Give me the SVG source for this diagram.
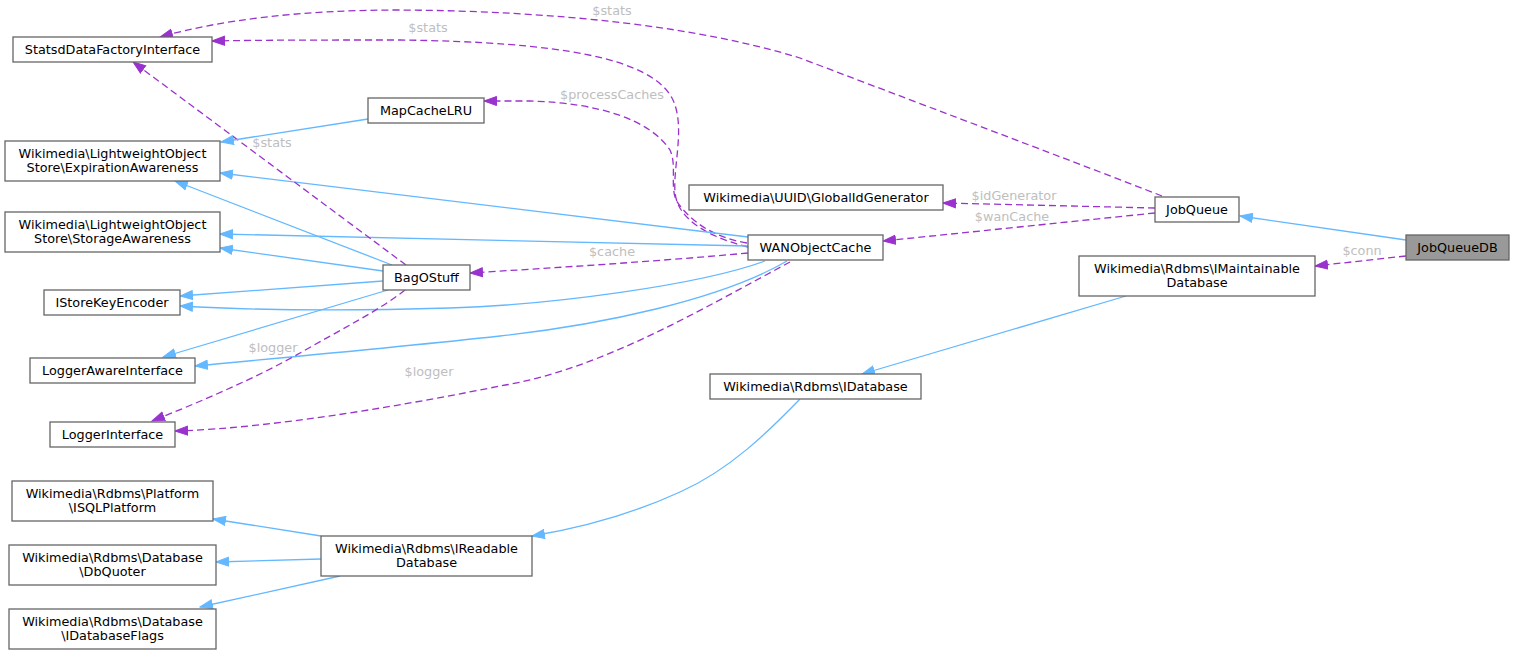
<svg xmlns="http://www.w3.org/2000/svg" width="1515" height="655" viewBox="0 0 1515 655">
<style>
.n rect{fill:#ffffff;stroke:#666666;stroke-width:1.3}
.n text{font-family:"DejaVu Sans",sans-serif;font-size:12.8px;fill:#000000;text-anchor:middle}
#JobQueueDB rect{fill:#999999}
.inh{fill:none;stroke:#63b8ff;stroke-width:1.3;marker-end:url(#ab)}
.use{fill:none;stroke:#9a32cd;stroke-width:1.3;stroke-dasharray:7,4;marker-end:url(#ap)}
.lbl{font-family:"DejaVu Sans",sans-serif;font-size:12.8px;fill:#bebebe;text-anchor:middle}
</style>
<defs>
<marker id="ab" markerUnits="userSpaceOnUse" markerWidth="14" markerHeight="11" refX="13" refY="5.5" orient="auto"><path d="M0.5,1 L13,5.5 L0.5,10 z" fill="#63b8ff" stroke="#63b8ff" stroke-width="1"/></marker>
<marker id="ap" markerUnits="userSpaceOnUse" markerWidth="14" markerHeight="11" refX="13" refY="5.5" orient="auto"><path d="M0.5,1 L13,5.5 L0.5,10 z" fill="#9a32cd" stroke="#9a32cd" stroke-width="1"/></marker>
</defs>
<rect width="1515" height="655" fill="#ffffff"/>
<g id="edges">
<path class="inh" d="M1406,240 L1240,216"/>
<path class="use" d="M1406,256 L1315,266"/>
<path class="inh" d="M1126,296 L862,374"/>
<path class="inh" d="M800,399 C770,430 730,470 680,492 C630,515 580,528 532,536"/>
<path class="inh" d="M321,536 L213,519"/>
<path class="inh" d="M321,559 L216,562"/>
<path class="inh" d="M340,576 L200,607"/>
<path class="use" d="M1155,208 L943,203"/>
<path class="use" d="M1155,213 L883,241"/>
<path class="use" d="M1162,196 C1080,164 950,115 800,58 C700,27 560,11 400,10 C300,10 220,20 160,37"/>
<path class="use" d="M748,247 C705,236 677,218 675,192 C673,165 686,125 672,98 C650,58 560,42 400,40 C320,40 260,40 212,41"/>
<path class="use" d="M747,243 C715,238 690,222 676,200 C670,185 677,165 670,150 C650,120 600,103 530,101 L484,101"/>
<path class="use" d="M748,253 C650,262 550,268 470,273"/>
<path class="inh" d="M748,237 L220,173"/>
<path class="inh" d="M748,246 L220,234"/>
<path class="inh" d="M765,261 C700,285 550,305 450,308 C350,311 250,310 180,306"/>
<path class="inh" d="M787,261 C720,300 600,325 500,336 C400,347 280,358 195,366"/>
<path class="use" d="M790,262 C700,310 600,370 500,386 C420,402 280,428 175,431"/>
<path class="inh" d="M392,265 L175,181"/>
<path class="inh" d="M383,271 L220,248"/>
<path class="inh" d="M383,281 L180,296"/>
<path class="inh" d="M388,290 L163,357"/>
<path class="use" d="M405,290 C380,310 340,330 300,353 C260,376 200,402 152,421"/>
<path class="use" d="M406,265 L133,62"/>
<path class="inh" d="M368,119 L221,142"/>
<text class="lbl" x="612" y="15">$stats</text>
<text class="lbl" x="428" y="32">$stats</text>
<text class="lbl" x="612" y="99">$processCaches</text>
<text class="lbl" x="272" y="147">$stats</text>
<text class="lbl" x="1014" y="200">$idGenerator</text>
<text class="lbl" x="1012" y="221">$wanCache</text>
<text class="lbl" x="1362" y="255">$conn</text>
<text class="lbl" x="612" y="256">$cache</text>
<text class="lbl" x="273" y="352">$logger</text>
<text class="lbl" x="429" y="376">$logger</text>
</g>
<g id="JobQueueDB" class="n"><rect x="1406" y="235" width="103" height="25"/><text x="1457.5" y="252">JobQueueDB</text></g>
<g id="JobQueue" class="n"><rect x="1155" y="197" width="84" height="25"/><text x="1197" y="214">JobQueue</text></g>
<g id="IMaintainableDatabase" class="n"><rect x="1079" y="256" width="236" height="40"/><text x="1197" y="272.5">Wikimedia\Rdbms\IMaintainable</text><text x="1197" y="287">Database</text></g>
<g id="GlobalIdGenerator" class="n"><rect x="689" y="185" width="254" height="25"/><text x="816" y="202">Wikimedia\UUID\GlobalIdGenerator</text></g>
<g id="WANObjectCache" class="n"><rect x="748" y="235" width="135" height="25"/><text x="815.5" y="252">WANObjectCache</text></g>
<g id="IDatabase" class="n"><rect x="710" y="374" width="211" height="25"/><text x="815.5" y="391">Wikimedia\Rdbms\IDatabase</text></g>
<g id="IReadableDatabase" class="n"><rect x="321" y="536" width="211" height="40"/><text x="426.5" y="552.5">Wikimedia\Rdbms\IReadable</text><text x="426.5" y="567">Database</text></g>
<g id="ISQLPlatform" class="n"><rect x="12" y="481" width="201" height="40"/><text x="112.5" y="497.5">Wikimedia\Rdbms\Platform</text><text x="112.5" y="512">\ISQLPlatform</text></g>
<g id="DbQuoter" class="n"><rect x="9" y="545" width="207" height="40"/><text x="112.5" y="561.5">Wikimedia\Rdbms\Database</text><text x="112.5" y="576">\DbQuoter</text></g>
<g id="IDatabaseFlags" class="n"><rect x="9" y="609" width="207" height="40"/><text x="112.5" y="625.5">Wikimedia\Rdbms\Database</text><text x="112.5" y="640">\IDatabaseFlags</text></g>
<g id="MapCacheLRU" class="n"><rect x="368" y="98" width="116" height="25"/><text x="426" y="115">MapCacheLRU</text></g>
<g id="BagOStuff" class="n"><rect x="383" y="265" width="87" height="25"/><text x="426.5" y="282">BagOStuff</text></g>
<g id="StatsdDataFactoryInterface" class="n"><rect x="13" y="37" width="199" height="25"/><text x="112.5" y="54">StatsdDataFactoryInterface</text></g>
<g id="ExpirationAwareness" class="n"><rect x="5" y="141" width="215" height="40"/><text x="112.5" y="157.5">Wikimedia\LightweightObject</text><text x="112.5" y="172">Store\ExpirationAwareness</text></g>
<g id="StorageAwareness" class="n"><rect x="5" y="212" width="215" height="40"/><text x="112.5" y="228.5">Wikimedia\LightweightObject</text><text x="112.5" y="243">Store\StorageAwareness</text></g>
<g id="IStoreKeyEncoder" class="n"><rect x="44" y="290" width="136" height="25"/><text x="112" y="307">IStoreKeyEncoder</text></g>
<g id="LoggerAwareInterface" class="n"><rect x="30" y="358" width="165" height="25"/><text x="112.5" y="375">LoggerAwareInterface</text></g>
<g id="LoggerInterface" class="n"><rect x="50" y="422" width="125" height="25"/><text x="112.5" y="439">LoggerInterface</text></g>
</svg>
